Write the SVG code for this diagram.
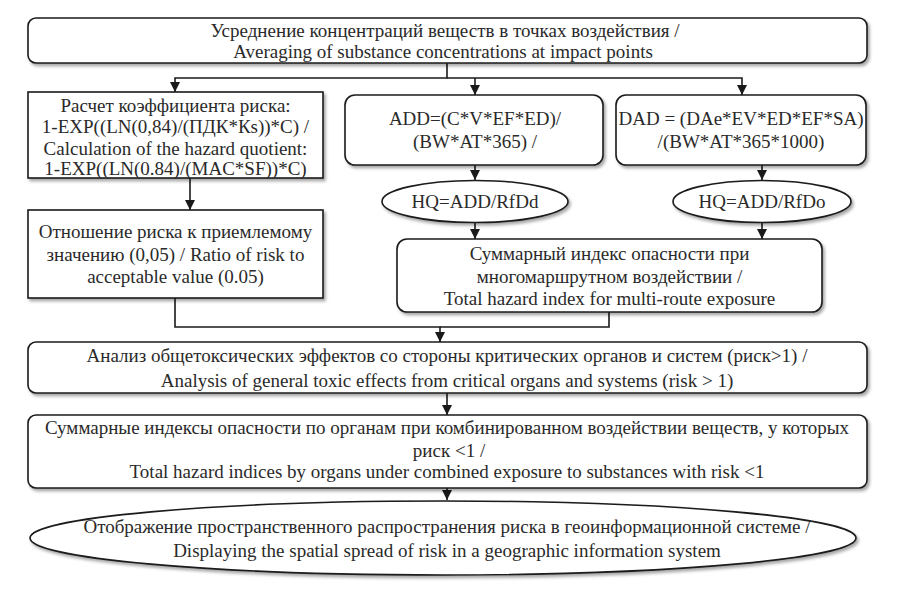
<svg xmlns="http://www.w3.org/2000/svg" width="900" height="591" viewBox="0 0 900 591">
<defs>
<style>
.n{fill:#fff;stroke:#1a1a1a;stroke-width:1.6;filter:url(#sh)}
.t{font-family:"Liberation Serif","Times New Roman",serif;font-size:19px;fill:#2a2a2a;text-anchor:middle}
.c{fill:none;stroke:#1a1a1a;stroke-width:1.6}
</style>
<filter id="sh" x="-5%" y="-20%" width="110%" height="150%">
<feDropShadow dx="2" dy="2.5" stdDeviation="1.5" flood-color="#000" flood-opacity="0.35"/>
</filter>
<marker id="a" markerUnits="userSpaceOnUse" markerWidth="10" markerHeight="10" refX="10" refY="5" orient="auto" viewBox="0 0 10 10">
<path d="M0,0 L10,5 L0,10 Z" fill="#1a1a1a"/>
</marker>
</defs>
<rect width="900" height="591" fill="#fff"/>
<g id="connectors">
<path class="c" d="M447,63 V78 H175 V92" marker-end="url(#a)"/>
<path class="c" d="M447,78 H742 V95" marker-end="url(#a)"/>
<path class="c" d="M475,78 V95" marker-end="url(#a)"/>
<path class="c" d="M190,178 V210" marker-end="url(#a)"/>
<path class="c" d="M475,165 V180" marker-end="url(#a)"/>
<path class="c" d="M762,165 V180" marker-end="url(#a)"/>
<path class="c" d="M475,223 V239" marker-end="url(#a)"/>
<path class="c" d="M762,223 V239" marker-end="url(#a)"/>
<path class="c" d="M175,298 V327 H440 V342" marker-end="url(#a)"/>
<path class="c" d="M609,312 V327 H440"/>
<path class="c" d="M447,393 V415" marker-end="url(#a)"/>
<path class="c" d="M447,488 V500" marker-end="url(#a)"/>
</g>
<g id="n1">
<rect class="n" x="28" y="18" width="839" height="45" rx="8"/>
<text class="t" x="445" y="37">Усреднение концентраций веществ в точках воздействия  /</text>
<text class="t" x="443" y="58">Averaging of substance concentrations at impact points</text>
</g>
<g id="n2">
<rect class="n" x="28" y="92" width="295" height="86"/>
<text class="t" x="175.5" y="112">Расчет коэффициента риска:</text>
<text class="t" x="175.5" y="133">1-EXP((LN(0,84)/(ПДК*Кs))*C) /</text>
<text class="t" x="175.5" y="155">Calculation of the hazard quotient:</text>
<text class="t" x="175.5" y="175">1-EXP((LN(0.84)/(MAC*SF))*C)</text>
</g>
<g id="n3">
<rect class="n" x="345" y="95" width="258" height="70" rx="10"/>
<text class="t" x="475" y="125">ADD=(C*V*EF*ED)/</text>
<text class="t" x="475" y="148">(BW*AT*365) /</text>
</g>
<g id="n4">
<rect class="n" x="616" y="95" width="250" height="70" rx="10"/>
<text class="t" x="741" y="125">DAD = (DAe*EV*ED*EF*SA)</text>
<text class="t" x="741" y="148">/(BW*AT*365*1000)</text>
</g>
<g id="n5">
<ellipse class="n" cx="475" cy="201.5" rx="93" ry="21"/>
<text class="t" x="475" y="208">HQ=ADD/RfDd</text>
</g>
<g id="n6">
<ellipse class="n" cx="762" cy="201.5" rx="89" ry="21"/>
<text class="t" x="762" y="208">HQ=ADD/RfDo</text>
</g>
<g id="n7">
<rect class="n" x="28" y="210" width="295" height="88"/>
<text class="t" x="175.5" y="238">Отношение риска к приемлемому</text>
<text class="t" x="175.5" y="261">значению (0,05) / Ratio of risk to</text>
<text class="t" x="175.5" y="283">acceptable value (0.05)</text>
</g>
<g id="n8">
<rect class="n" x="397" y="239" width="425" height="73" rx="10"/>
<text class="t" x="609.5" y="260">Суммарный индекс опасности при</text>
<text class="t" x="609.5" y="283">многомаршрутном воздействии /</text>
<text class="t" x="609.5" y="305">Total hazard index for multi-route exposure</text>
</g>
<g id="n9">
<rect class="n" x="28" y="342" width="839" height="51" rx="8"/>
<text class="t" x="447" y="362">Анализ общетоксических эффектов со стороны критических органов и систем (риск&gt;1) /</text>
<text class="t" x="447" y="387">Analysis of general toxic effects from critical organs and systems (risk &gt; 1)</text>
</g>
<g id="n10">
<rect class="n" x="28" y="415" width="839" height="73" rx="8"/>
<text class="t" x="447" y="434">Суммарные индексы опасности по органам при комбинированном воздействии веществ, у которых</text>
<text class="t" x="449" y="457">риск &lt;1 /</text>
<text class="t" x="447" y="478">Total hazard indices by organs under combined exposure to substances with risk &lt;1</text>
</g>
<g id="n11">
<ellipse class="n" cx="443" cy="538" rx="413" ry="37"/>
<text class="t" x="447" y="533">Отображение пространственного распространения риска в геоинформационной системе /</text>
<text class="t" x="447" y="557">Displaying the spatial spread of risk in a geographic information system</text>
</g>
</svg>
